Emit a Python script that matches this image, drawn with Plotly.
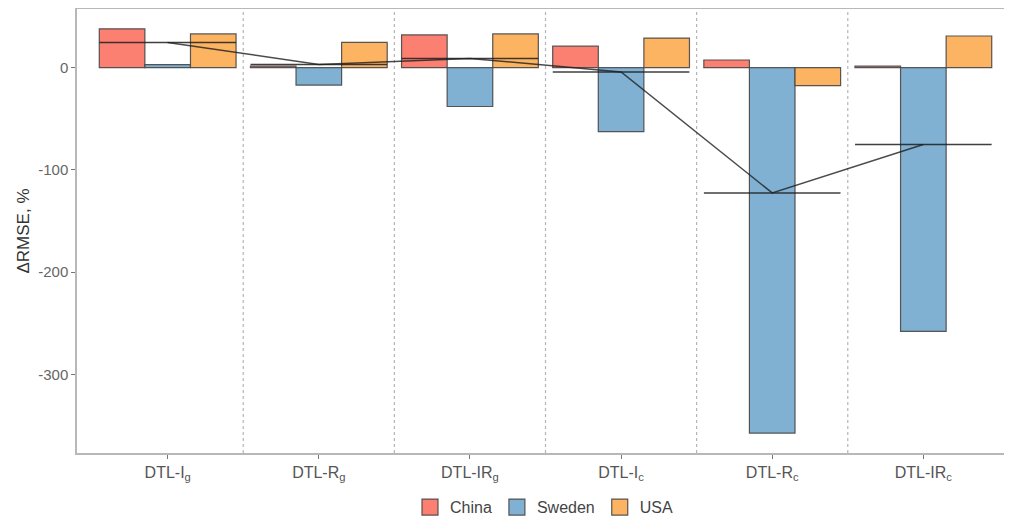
import plotly.graph_objects as go

categories = ["DTL-I<sub>g</sub>", "DTL-R<sub>g</sub>", "DTL-IR<sub>g</sub>",
              "DTL-I<sub>c</sub>", "DTL-R<sub>c</sub>", "DTL-IR<sub>c</sub>"]
china = [38, 1.5, 32, 21, 7.5, 1.5]
sweden = [3, -17, -38, -62.5, -357.5, -258]
usa = [33, 24.7, 33, 29, -17.6, 31]
y_ticks = [0, -100, -200, -300]
y_ticktext = ["0", "-100", "-200", "-300"]

series = [("China", china, "#FB8072"), ("Sweden", sweden, "#80B1D3"), ("USA", usa, "#FDB462")]
outline = "rgba(70,70,70,0.9)"

xs = list(range(len(categories)))
means = [(a + b + c) / 3 for a, b, c in zip(china, sweden, usa)]

fig = go.Figure()
for name, vals, col in series:
    fig.add_trace(go.Bar(
        x=xs, y=vals, name=name, showlegend=False,
        marker=dict(color=col, line=dict(color=outline, width=1.2)),
    ))

# horizontal mean segments per group
for i, m in zip(xs, means):
    fig.add_trace(go.Scatter(
        x=[i - 0.452, i + 0.452], y=[m, m], mode="lines",
        line=dict(color="rgba(30,30,30,0.85)", width=1.5),
        showlegend=False, hoverinfo="skip",
    ))
# connecting line through means
fig.add_trace(go.Scatter(
    x=xs, y=means, mode="lines",
    line=dict(color="rgba(30,30,30,0.8)", width=1.5),
    showlegend=False, hoverinfo="skip",
))

# legend entries (large square keys)
for name, vals, col in series:
    fig.add_trace(go.Scatter(
        x=[None], y=[None], mode="markers", name=name,
        marker=dict(symbol="square", size=16, color=col, line=dict(color=outline, width=1.2)),
    ))

shapes = []
for i in xs[:-1]:
    shapes.append(dict(type="line", xref="x", yref="paper", x0=i + 0.5, x1=i + 0.5, y0=0, y1=1,
                       line=dict(color="#b5b5b5", width=1.2, dash="dot"), layer="below"))

fig.update_layout(
    width=1003, height=513,
    margin=dict(l=69, r=0, t=1, b=68, autoexpand=False),
    paper_bgcolor="white", plot_bgcolor="white",
    barmode="group", bargap=0.095, bargroupgap=0,
    font=dict(family="Liberation Sans, Arial, sans-serif", color="#555555"),
    shapes=shapes,
    legend=dict(orientation="h", xref="paper", yref="container",
                x=0.5, xanchor="center", y=0.027, yanchor="middle",
                font=dict(size=16, color="#444444"), traceorder="normal",
                itemsizing="trace", itemwidth=30, tracegroupgap=0),
    xaxis=dict(
        range=[-0.6, 5.58], tickvals=xs, ticktext=categories,
        showline=True, linecolor="#b8b8b8", linewidth=1.5, mirror=True,
        ticks="outside", ticklen=4, tickcolor="#777777",
        showgrid=False, zeroline=False, automargin=False,
        tickfont=dict(size=16, color="#555555"),
    ),
    yaxis=dict(
        range=[-377, 57.4], tickvals=y_ticks, ticktext=y_ticktext,
        showline=True, linecolor="#b8b8b8", linewidth=1.5,
        ticks="outside", ticklen=4, tickcolor="#777777",
        showgrid=False, zeroline=False, automargin=False,
        tickfont=dict(size=15, color="#666666"),
        title=dict(text="ΔRMSE, %", font=dict(size=17, color="#333333"), standoff=4),
    ),
)

fig.write_html("out.html")
